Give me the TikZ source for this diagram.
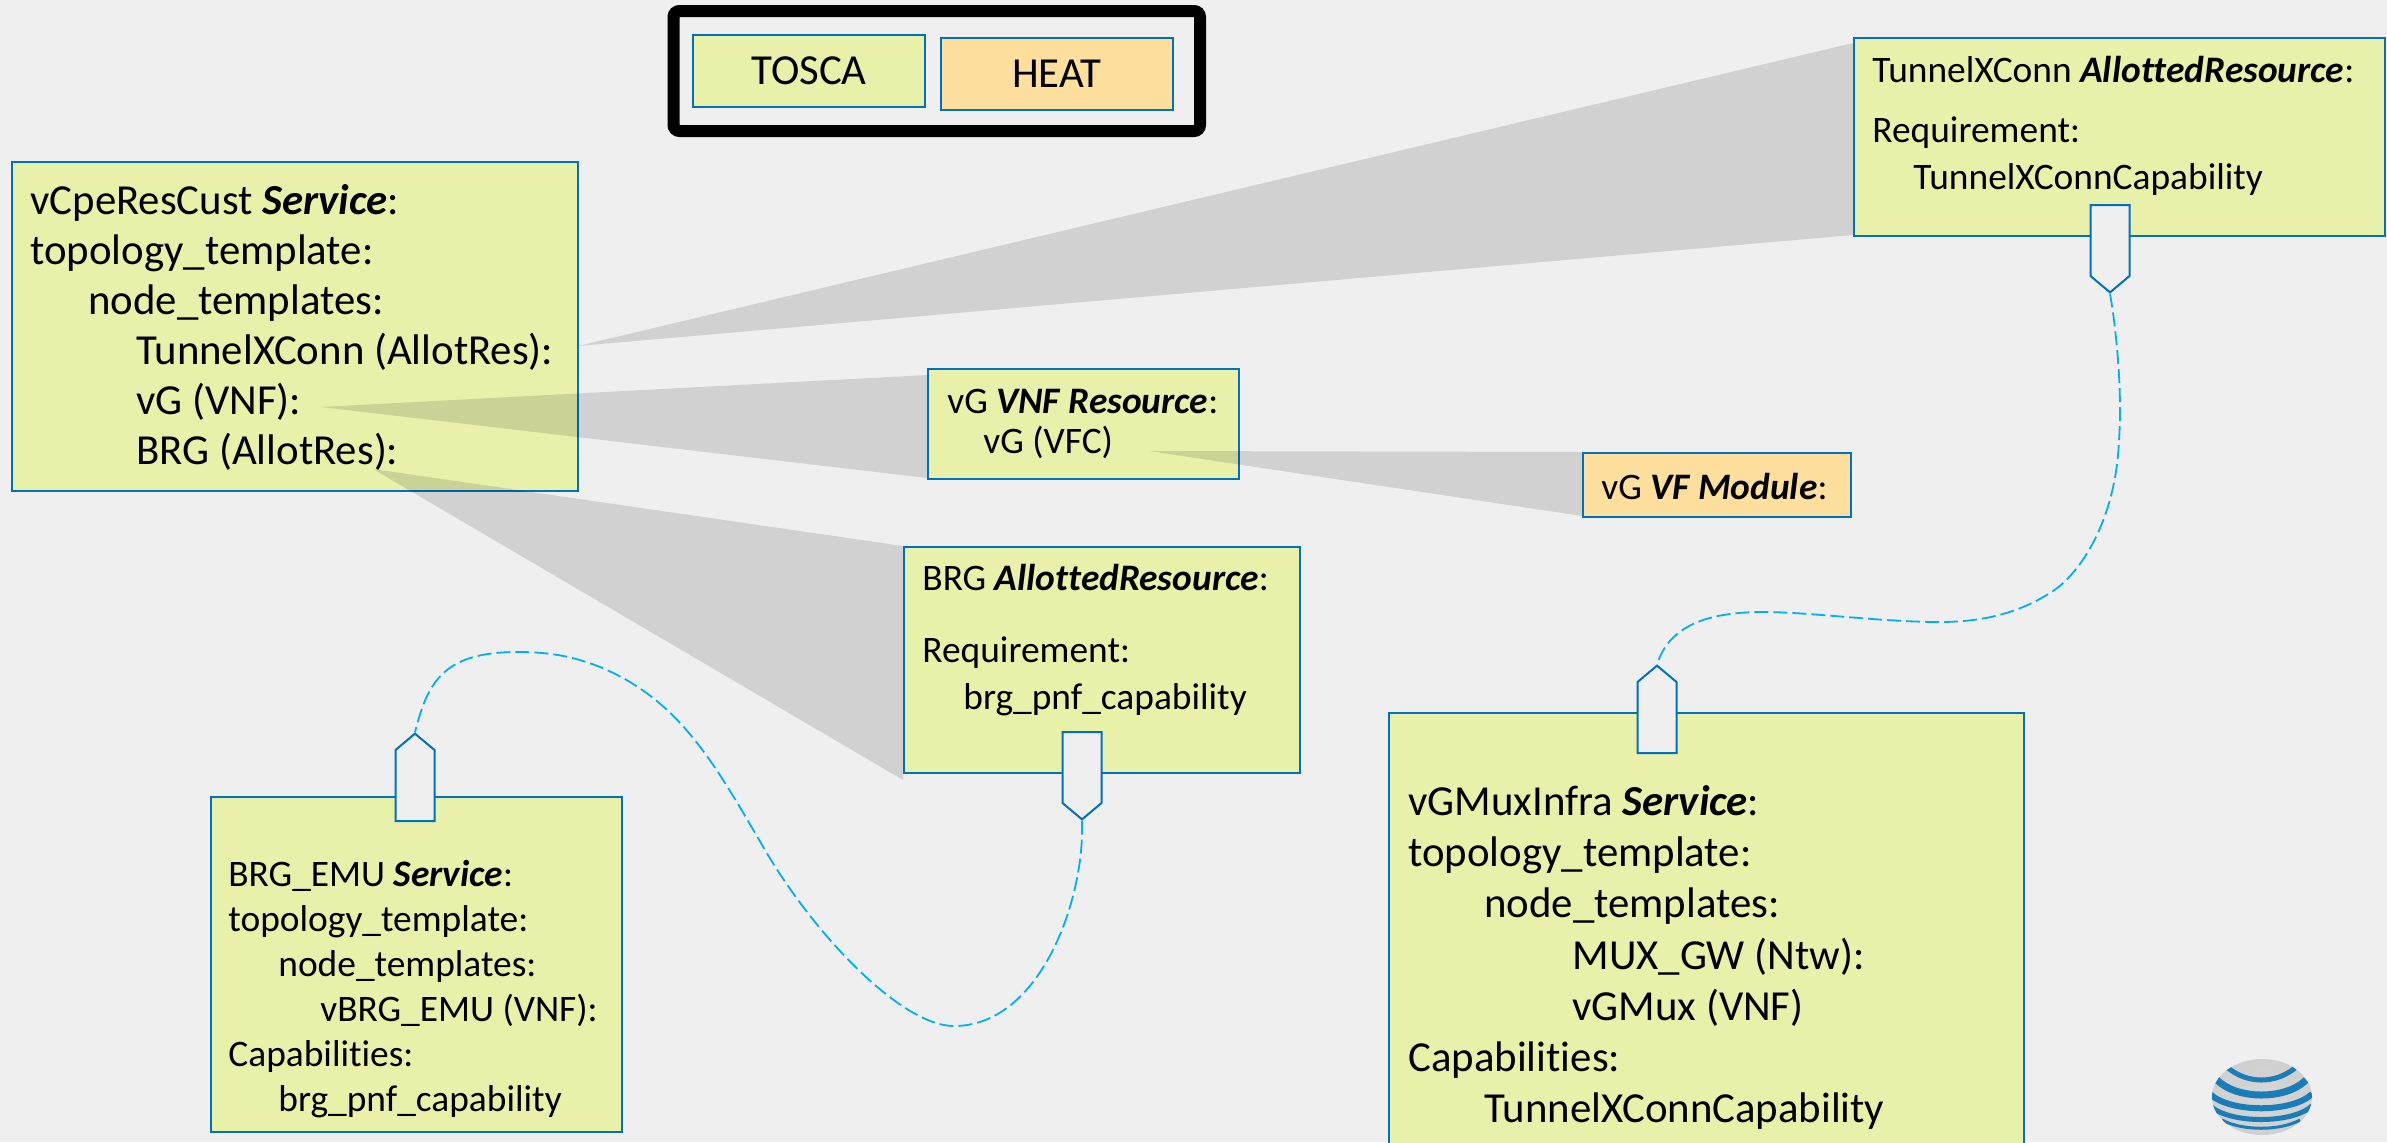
\documentclass[tikz,border=0pt]{standalone}
\usepackage{fontspec}
\setmainfont[Ligatures=NoCommon]{Carlito}
\usetikzlibrary{shapes.symbols}
\definecolor{tosca}{RGB}{232,240,170}
\definecolor{heat}{RGB}{255,223,158}
\definecolor{pagebg}{RGB}{239,239,239}
\definecolor{edge}{RGB}{0,112,192}
\definecolor{wire}{RGB}{0,176,240}
\definecolor{globe}{RGB}{24,125,185}
\newcommand{\sv}[1]{\textbf{\textit{#1}}}
\newcommand{\ind}[1]{\hspace*{#1pt}}
\tikzstyle{toscabox} = [rectangle, draw=edge, fill=tosca, line width=0.8pt, inner sep=0pt]
\tikzstyle{heatbox} = [rectangle, draw=edge, fill=heat, line width=0.8pt, inner sep=0pt]
\tikzstyle{bigtext} = [anchor=north west, inner sep=0pt, align=left, font=\fontsize{21.4}{25}\selectfont]
\tikzstyle{smalltext} = [anchor=north west, inner sep=0pt, align=left, font=\fontsize{18.7}{23.5}\selectfont]
\tikzstyle{tab} = [signal, signal to=south, signal pointer angle=100, draw=edge, fill=pagebg, line width=1pt, inner sep=0pt, minimum width=19.5pt, minimum height=35.5pt, anchor=north]
\tikzstyle{tabup} = [tab, signal to=north, anchor=south]
\tikzstyle{shade} = [fill=black, opacity=0.12]
\tikzstyle{link} = [wire, line width=0.9pt, dash pattern=on 7pt off 2.5pt]

\begin{document}
\begin{tikzpicture}[x=0.5pt,y=-0.5pt]

\useasboundingbox (0,0) rectangle (2387,1142);
\clip (0,0) rectangle (2387,1142);
\fill[pagebg] (0,0) rectangle (2387,1142);

% legend
\draw[line width=6pt,rounded corners=3pt] (673.5,11) rectangle (1200,131);
\node (legtosca) [toscabox,minimum width=116pt,minimum height=36pt,font=\fontsize{21.4}{25}\selectfont] at (809,71) {TOSCA};
\node (legheat) [heatbox,minimum width=116pt,minimum height=36pt,font=\fontsize{21.4}{25}\selectfont] at (1057,74) {HEAT};

\node (vcpe) [toscabox,anchor=north west,minimum width=283pt,minimum height=164.5pt] at (11,161) {};

% shaded zoom wedges
\coordinate (fromtunnel) at (578,346);
\coordinate (fromvg) at (321,407);
\coordinate (frombrg) at (373,469);
\fill[shade] (fromtunnel) -- (1853,43) -- (1853,235) -- cycle;
\fill[shade] (fromvg) -- (927,375) -- (927,478) -- cycle;
\fill[shade] (frombrg) -- (903,546) -- (903,780) -- cycle;

\node (tunnel) [toscabox,anchor=north west,minimum width=265.5pt,minimum height=99pt] at (1853,37) {};
\node (vgvnf) [toscabox,anchor=north west,minimum width=155.5pt,minimum height=55pt] at (927,368) {};
\coordinate (fromvfc) at (1149,451);
\fill[shade] (fromvfc) -- (1582,452) -- (1582,516) -- cycle;
\node (vgmod) [heatbox,anchor=north west,minimum width=134pt,minimum height=32pt] at (1582,452) {};
\node (brg) [toscabox,anchor=north west,minimum width=198pt,minimum height=113pt] at (903,546) {};
\node (emu) [toscabox,anchor=north west,minimum width=205.5pt,minimum height=167.5pt] at (210,796) {};
\node (mux) [toscabox,anchor=north west,minimum width=317.5pt,minimum height=240pt] at (1388,712) {};

\node (vcpetext) [bigtext] at (30,184) {vCpeResCust \sv{Service}:\\
topology\_template:\\
\ind{29}node\_templates:\\
\ind{53}TunnelXConn (AllotRes):\\
\ind{53}vG (VNF):\\
\ind{53}BRG (AllotRes):};

\node (tunneltext) [smalltext] at (1872,56) {TunnelXConn \sv{AllottedResource}:\\[6.5pt]
Requirement:\\
\ind{20.5}TunnelXConnCapability};

\node (vgvnftext) [smalltext,font=\fontsize{18.7}{20}\selectfont] at (947,389) {vG \sv{VNF Resource}:\\
\ind{18}vG (VFC)};

\node (vgmodtext) [smalltext] at (1601,473) {vG \sv{VF Module}:};

\node (brgtext) [smalltext] at (922,564) {BRG \sv{AllottedResource}:\\[12.5pt]
Requirement:\\
\ind{20.5}brg\_pnf\_capability};

\node (emutext) [smalltext,font=\fontsize{18.7}{22.5}\selectfont] at (228,860) {BRG\_EMU \sv{Service}:\\
topology\_template:\\
\ind{25}node\_templates:\\
\ind{46}vBRG\_EMU (VNF):\\
Capabilities:\\
\ind{25}brg\_pnf\_capability};

\node (muxtext) [bigtext,font=\fontsize{21.4}{25.6}\selectfont] at (1408,785) {vGMuxInfra \sv{Service}:\\
topology\_template:\\
\ind{38}node\_templates:\\
\ind{82}MUX\_GW (Ntw):\\
\ind{82}vGMux (VNF)\\
Capabilities:\\
\ind{38}TunnelXConnCapability};

% capability tabs
\node (tabtunnel) [tab] at (2110,204) {};
\node (tabbrg) [tab] at (1082,731) {};
\node (tabmux) [tabup] at (1657,754) {};
\node (tabemu) [tabup] at (415,822) {};

\draw[link] (tabtunnel.south) .. controls (2118,340) and (2122,400) .. (2119,440) .. controls (2116,520) and (2080,575) .. (2050,593) .. controls (2020,612) and (1985,622) .. (1940,622) .. controls (1880,622) and (1810,612) .. (1763,612) .. controls (1700,612) and (1668,630) .. (tabmux.north);
\draw[link] (tabbrg.south) .. controls (1085,900) and (1040,1026) .. (954,1026) .. controls (900,1026) and (810,930) .. (761,843) .. controls (715,765) and (680,700) .. (600,667) .. controls (570,655) and (545,652) .. (518,652) .. controls (445,652) and (428,680) .. (tabemu.north);

% globe
\begin{scope}
\shade[inner color=white,outer color=gray!45] (2262,1097) ellipse (50 and 38);
\clip (2262,1097) ellipse (50 and 38);
\foreach \xa/\xb/\ya/\yb/\wid in {2228/2295/1068/1084/2.5,2217/2306/1080/1100/3.5,2210/2312/1094/1113/3,2210/2312/1106/1124/2.5,2222/2300/1120/1131/1.5}
  \draw[globe,line width=\wid pt] (\xa,\ya) .. controls (\xa+20,\yb) and (\xb-20,\yb) .. (\xb,\ya);
\end{scope}

\end{tikzpicture}
\end{document}
